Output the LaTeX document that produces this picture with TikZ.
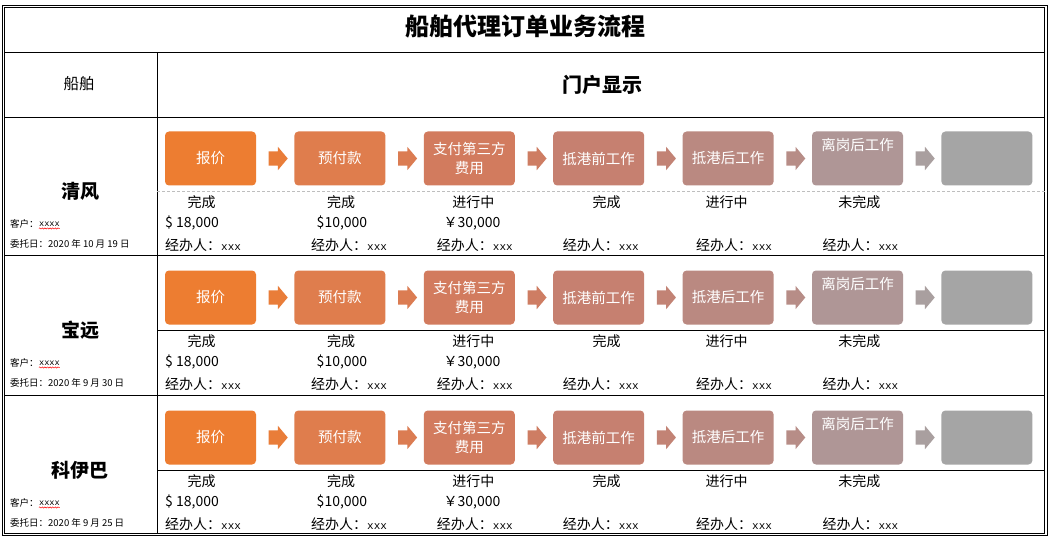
\documentclass[tikz,border=0pt]{standalone}
\usepackage{fontspec}
\setmainfont{Noto Sans CJK SC}
\newfontfamily\monofont{Liberation Mono}
\usetikzlibrary{positioning,shapes.arrows,decorations.pathmorphing}

\definecolor{stageA}{RGB}{237,125,49}
\definecolor{stageB}{RGB}{223,125,77}
\definecolor{stageC}{RGB}{210,123,94}
\definecolor{stageD}{RGB}{198,128,112}
\definecolor{stageE}{RGB}{186,137,129}
\definecolor{stageF}{RGB}{175,150,150}
\definecolor{stageG}{RGB}{165,165,165}
\colorlet{arrowA}{stageA!70!stageB}
\colorlet{arrowB}{stageB!70!stageC}
\colorlet{arrowC}{stageC!70!stageD}
\colorlet{arrowD}{stageD!70!stageE}
\colorlet{arrowE}{stageE!70!stageF}
\colorlet{arrowF}{stageF!40!stageG}
\definecolor{dashgray}{RGB}{190,190,190}

\tikzstyle{stage} = [rectangle, rounded corners=4pt, text=white, align=center, minimum width=91pt, minimum height=54pt, font=\fontsize{14.5}{19}\selectfont]
\tikzstyle{stagearrow} = [single arrow, single arrow head extend=4.5pt, single arrow tip angle=100, minimum height=19pt, inner xsep=0pt, inner ysep=7pt]
\tikzstyle{info} = [inner sep=0pt, font=\fontsize{14}{16}\selectfont]
\tikzstyle{small} = [inner sep=0pt, font=\fontsize{9.5}{11}\selectfont]
\tikzstyle{shipname} = [inner sep=0pt, font=\fontsize{19}{22}\selectfont\bfseries]
\tikzstyle{grid} = [draw, line width=1.3pt]
\tikzstyle{dashsep} = [draw=dashgray, line width=0.8pt, dash pattern=on 3pt off 2pt]
\tikzstyle{solidsep} = [draw, line width=1pt]
\tikzstyle{wavy} = [draw=red, line width=0.5pt, decorate, decoration={snake, amplitude=0.6pt, segment length=2.6pt}]

\begin{document}
\begin{tikzpicture}[x=1pt, y=1pt, node distance=129.4pt]
  \useasboundingbox (0,0) rectangle (1051,-540);
  \fill[white] (0,0) rectangle (1051,-540);

  % frame and table rules
  \draw[line width=1pt] (2.7,-5.3) rectangle (1047,-535.7);
  \draw[line width=1pt] (4.7,-7.3) rectangle (1044.7,-533.7);
  \foreach \y in {52.3,117.3,255.7,395.7}
    \draw[grid] (4.7,-\y) -- (1044.7,-\y);
  \draw[grid] (157.3,-52.3) -- (157.3,-533.7);

  \node[inner sep=0pt, font=\fontsize{24}{26}\selectfont\bfseries] (title) at (525.8,-27) {船舶代理订单业务流程};
  \node[inner sep=0pt, font=\fontsize{15.5}{18}\selectfont] (shiphead) at (79,-84) {船舶};
  \node[inner sep=0pt, font=\fontsize{20}{22}\selectfont\bfseries] (portal) at (602.5,-85) {门户显示};

  \foreach \r/\rowy/\ship/\since/\sepstyle in {1/117/清风/2020 年 10 月 19 日/dashsep, 2/256/宝远/2020 年 9 月 30 日/solidsep, 3/396/科伊巴/2020 年 9 月 25 日/solidsep} {
    % left column
    \node[shipname] (n\r) at (80.3,-\rowy-74) {\ship};
    \node[small, anchor=west] (c\r) at (10,-\rowy-107) {客户：};
    \node[small, right=0pt of c\r, font={\monofont\fontsize{8.6}{10}\selectfont}] (x\r) {xxxx};
    \draw[wavy] ([yshift=-2pt]x\r.south west) -- ([yshift=-2pt]x\r.south east);
    \node[small, anchor=west] (d\r) at (10,-\rowy-127) {委托日：\since};

    % stages
    \node[stage, fill=stageA] (s\r1) at (210.5,-\rowy-41.5) {报价};
    \node[stage, fill=stageB, right of=s\r1] (s\r2) {预付款};
    \node[stage, fill=stageC, right of=s\r2] (s\r3) {支付第三方\\费用};
    \node[stage, fill=stageD, right of=s\r3] (s\r4) {抵港前工作};
    \node[stage, fill=stageE, right of=s\r4] (s\r5) {抵港后工作};
    \node[stage, fill=stageF, right of=s\r5, text depth=28pt] (s\r6) {离岗后工作};
    \node[stage, fill=stageG, right of=s\r6] (s\r7) {};
    \foreach \k/\c in {1/arrowA, 2/arrowB, 3/arrowC, 4/arrowD, 5/arrowE, 6/arrowF}
      \node[stagearrow, fill=\c, right of=s\r\k, node distance=64.7pt] (a\r\k) {};

    \draw[\sepstyle] (157.3,-\rowy-74.5) -- (1044.7,-\rowy-74.5);

    % status, amount, agent
    \foreach \k/\x/\txt in {1/201.7/完成, 2/341/完成, 3/473.3/进行中, 4/606.7/完成, 5/726.7/进行中, 6/859.3/未完成}
      \node[info] (st\r\k) at (\x,-\rowy-84.7) {\txt};
    \node[info, anchor=west] (m\r1) at (165,-\rowy-106.3) {\$ 18,000};
    \node[info] (m\r2) at (342,-\rowy-106.3) {\$10,000};
    \node[info] (m\r3) at (472,-\rowy-106.3) {￥30,000};
    \foreach \k/\x in {1/165, 2/311, 3/436.7, 4/562.7, 5/696, 6/822.3}
      \node[info, anchor=west] (ag\r\k) at (\x,-\rowy-128) {经办人：{\monofont\fontsize{11}{12}\selectfont xxx}};
  }
\end{tikzpicture}
\end{document}
